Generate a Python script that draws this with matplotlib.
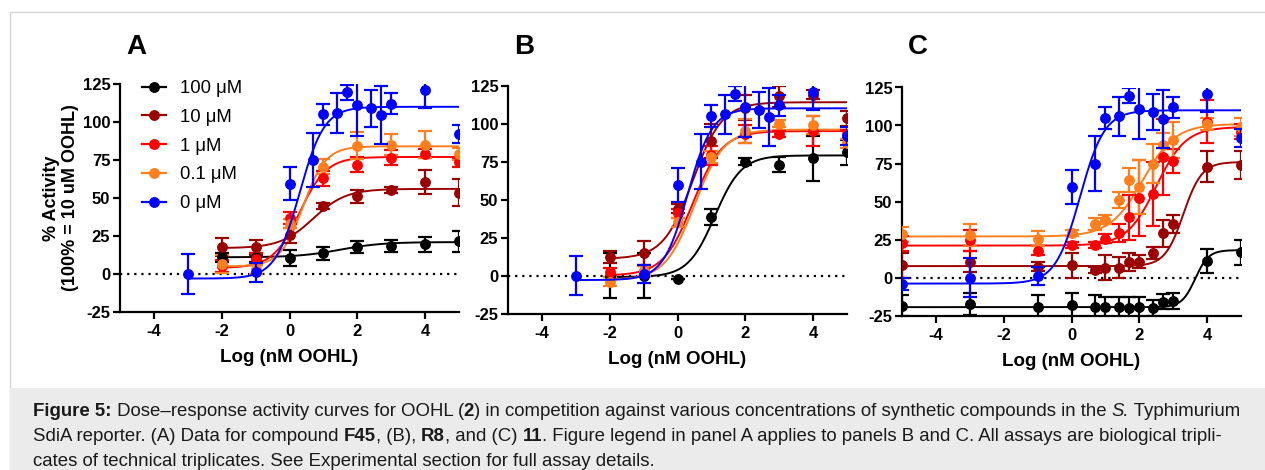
"""Dose-response curves for OOHL vs synthetic compounds, panels A/B/C + caption"""

import matplotlib
matplotlib.use("Agg")
import matplotlib.pyplot as plt
import numpy as np
from matplotlib.lines import Line2D
from matplotlib.patches import Rectangle

plt.rcParams['font.family'] = ['Liberation Sans', 'DejaVu Sans']
plt.rcParams['axes.unicode_minus'] = False

W, H = 1265, 470

labels = ["100 \u03bcM", "10 \u03bcM", "1 \u03bcM", "0.1 \u03bcM", "0 \u03bcM"]
colors = ["#000000", "#9b0000", "#ff0000", "#ff7f1e", "#0000ff"]

# control (0 uM compound), shared by all panels
ctrl_x = [-3, -1, 0, 0.7, 1, 1.4, 1.7, 2, 2.4, 2.7, 3, 4, 5]
ctrl_y = [0, 1, 59.5, 75, 105, 106, 119.5, 111, 109, 104.5, 112, 121, 92]
ctrl_e = [13, 6, 11, 18, 7, 13, 5, 20, 12, 19, 7, 12, 6]

# panel A (F45)
a_x = [-2, -1, 0, 1, 2, 3, 4, 5]
a_y100 = [11, 11, 10.5, 13.5, 17.5, 18.5, 19.5, 21.5]
a_e100 = [3, 3, 5, 4, 4, 4, 5, 7]
a_y10 = [18, 17.5, 25.5, 44.5, 51, 55, 60.5, 53.5]
a_e10 = [6, 5, 5, 2, 4, 2, 8, 9]
a_y1 = [5, 10, 37, 63, 72, 76.5, 79, 73.5]
a_e1 = [4, 4, 4, 5, 5, 5, 3, 3]
a_y01 = [6.5, 3, 33, 70.5, 84.5, 85, 85, 79]
a_e01 = [6, 3, 3, 5, 9, 7, 9, 4]

# panel B (R8)
b_x = [-2, -1, 0, 1, 2, 3, 4, 5]
b_y100 = [0, 0, -2.5, 38.5, 75, 73, 77, 81]
b_e100 = [15, 15, 0, 5, 2, 5, 15, 8]
b_y10 = [12, 15, 44, 88.5, 110.5, 118, 119, 103.5]
b_e10 = [4, 8, 3, 11, 8, 7, 3, 5]
b_y1 = [2, 3, 41, 79, 93, 93, 95, 93]
b_e1 = [3, 3, 3, 6, 6, 2, 10, 3]
b_y01 = [-4, 3, 35, 78, 95, 100, 99, 87]
b_e01 = [3, 3, 3, 4, 8, 2, 6, 3]

# panel C (11)
c_x = [-5, -3, -1, 0, 0.7, 1, 1.4, 1.7, 2, 2.4, 2.7, 3, 4, 5]
c_y100 = [-18.5, -17.5, -19.5, -18, -19.5, -19.5, -19.5, -20, -19.5, -20, -16, -15.5, 11, 16.5]
c_e100 = [7, 7, 8, 8, 8, 7, 7, 7, 7, 5, 5, 5, 8, 8]
c_y10 = [8, 10.5, 7, 8, 5, 6.5, 6.5, 10, 10.5, 16, 29, 35, 73, 74]
c_e10 = [8, 7, 3, 8, 2, 8, 7, 6, 4, 4, 9, 6, 10, 9]
c_y1 = [22.5, 24.5, 17.5, 21.5, 21.5, 25.5, 29.5, 39.5, 52, 55, 79.5, 76.5, 102.5, 96]
c_e1 = [5, 7, 3, 2, 2, 3, 6, 15, 25, 21, 25, 8, 14, 5]
c_y01 = [28.5, 28, 25.5, 29, 35, 38, 51, 64, 59.5, 75, 87, 90.5, 101, 99]
c_e01 = [5, 7, 5, 2, 4, 3, 5, 8, 18, 13, 8, 12, 4, 6]
c_ctrl_x = [-5] + ctrl_x
c_ctrl_y = [-4.5] + ctrl_y
c_ctrl_e = [4] + ctrl_e

# fitted 4PL parameters: bottom, top, logEC50, hill (order = labels)
a_fit = [(11, 21, 1.5, 0.7), (17, 56, 0.7, 0.9), (4, 77, 0.3, 1.1), (5, 84, 0.4, 1.3), (-3, 110, 0.3, 1.2)]
b_fit = [(-1, 79, 1.1, 1.1), (11, 114, 0.45, 1.0), (0, 95, 0.45, 1.0), (-3, 96, 0.5, 1.0), (-3, 110, 0.3, 1.2)]
c_fit = [(-19.5, 18, 3.65, 2.2), (7.5, 76, 3.3, 1.6), (21, 99, 2.5, 1.0), (27, 101, 2.1, 0.9), (-4, 110, 0.25, 1.2)]


def fourpl(x, p):
    bottom, top, logec, hill = p
    return bottom + (top - bottom) / (1 + 10 ** ((logec - x) * hill))


fig = plt.figure(figsize=(W / 100, H / 100), dpi=100)

# frame and caption box
fig.patches.append(Rectangle((9.5 / W, -0.01), 1.02, 1 - 12.5 / H + 0.01, transform=fig.transFigure,
                             facecolor="white", edgecolor="#d6d6d6", lw=1, zorder=-3))
fig.patches.append(Rectangle((9.5 / W, -0.01), 1.02, (470 - 388) / H + 0.01, transform=fig.transFigure,
                             facecolor="#ebebeb", edgecolor="none", zorder=-2))

panels = [
    ("A", 120, 84, a_x, [a_y100, a_y10, a_y1, a_y01], [a_e100, a_e10, a_e1, a_e01], ctrl_x, ctrl_y, ctrl_e, a_fit, -2, -3),
    ("B", 508, 85.5, b_x, [b_y100, b_y10, b_y1, b_y01], [b_e100, b_e10, b_e1, b_e01], ctrl_x, ctrl_y, ctrl_e, b_fit, -2, -3),
    ("C", 902, 87.5, c_x, [c_y100, c_y10, c_y1, c_y01], [c_e100, c_e10, c_e1, c_e01], c_ctrl_x, c_ctrl_y, c_ctrl_e, c_fit, -5, -5),
]

for name, left, top, xs, ys, es, cx, cy, ce, fits, x0, cx0 in panels:
    bottom = top + 228
    ax = fig.add_axes([left / W, 1 - bottom / H, 339 / W, 228 / H])
    ax.axhline(0, color="black", lw=1.6, ls=(0, (1, 2.2)), zorder=1)
    for i in range(4):
        xx = np.linspace(x0, 5, 300)
        ax.plot(xx, fourpl(xx, fits[i]), color=colors[i], lw=1.4, zorder=2)
        ax.errorbar(xs, ys[i], yerr=es[i], fmt="o", color=colors[i], ms=6.8, elinewidth=1.6,
                    capsize=5, capthick=1.6, zorder=3)
    xx = np.linspace(cx0, 5, 300)
    ax.plot(xx, fourpl(xx, fits[4]), color=colors[4], lw=1.4, zorder=4)
    ax.errorbar(cx, cy, yerr=ce, fmt="o", color=colors[4], ms=6.8, elinewidth=1.6,
                capsize=5, capthick=1.6, zorder=5)

    ax.set_xlim(-5, 5)
    ax.set_ylim(-25, 125)
    ax.set_xticks([-4, -2, 0, 2, 4])
    ax.set_yticks(np.arange(-25, 126, 25))
    ax.spines[["top", "right"]].set_visible(False)
    ax.spines[["left", "bottom"]].set_linewidth(1.6)
    ax.tick_params(width=1.6, length=5, labelsize=12, pad=2)
    ax.tick_params(axis="x", pad=4)
    for lab in ax.get_xticklabels() + ax.get_yticklabels():
        lab.set_fontweight("bold")
    ax.set_xlabel("Log (nM OOHL)", fontsize=13.5, fontweight="bold", labelpad=7)
    ax.patch.set_alpha(0)
    fig.text((left + 16) / W, 1 - 46.5 / H, name, fontsize=20, fontweight="bold", ha="center", va="center")

    if name == "A":
        handles = [Line2D([], [], color=c, lw=1.6, marker="o", ms=6.8) for c in colors]
        ax.legend(handles, labels, loc="upper left", bbox_to_anchor=(141.5 / W, 1 - 80 / H),
                  bbox_transform=fig.transFigure, frameon=False, fontsize=13.3, borderpad=0,
                  borderaxespad=0, handlelength=1.35, handletextpad=0.75, labelspacing=0.64)

fig.text(61 / W, 1 - 198 / H, "% Activity\n(100% = 10 uM OOHL)", rotation=90, ha="center", va="center",
         fontsize=13, fontweight="bold", multialignment="center")

# caption with mixed styles
cap = [
    [("Figure 5:", "bold", "normal"), (" Dose\u2013response activity curves for OOHL (", "normal", "normal"),
     ("2", "bold", "normal"),
     (") in competition against various concentrations of synthetic compounds in the ", "normal", "normal"),
     ("S.", "normal", "italic"), (" Typhimurium", "normal", "normal")],
    [("SdiA reporter. (A) Data for compound ", "normal", "normal"), ("F45", "bold", "normal"),
     (", (B), ", "normal", "normal"), ("R8", "bold", "normal"), (", and (C) ", "normal", "normal"),
     ("11", "bold", "normal"),
     (". Figure legend in panel A applies to panels B and C. All assays are biological tripli-", "normal", "normal")],
    [("cates of technical triplicates. See Experimental section for full assay details.", "normal", "normal")],
]
renderer = fig.canvas.get_renderer()
cap_size = 13.4


def text_width(s, weight, style):
    t1 = fig.text(0, 0, "|" + s + "|", fontsize=cap_size, fontweight=weight, fontstyle=style)
    t2 = fig.text(0, 0, "||", fontsize=cap_size, fontweight=weight, fontstyle=style)
    w = t1.get_window_extent(renderer).width - t2.get_window_extent(renderer).width
    t1.remove()
    t2.remove()
    return w


for line, base in zip(cap, [416.5, 441, 465.5]):
    x = 33
    for s, weight, style in line:
        fig.text(x / W, 1 - base / H, s, fontsize=cap_size, fontweight=weight, fontstyle=style,
                 va="baseline", ha="left", color="#1a1a1a")
        x += text_width(s, weight, style)

fig.savefig("out.png", dpi=100)
